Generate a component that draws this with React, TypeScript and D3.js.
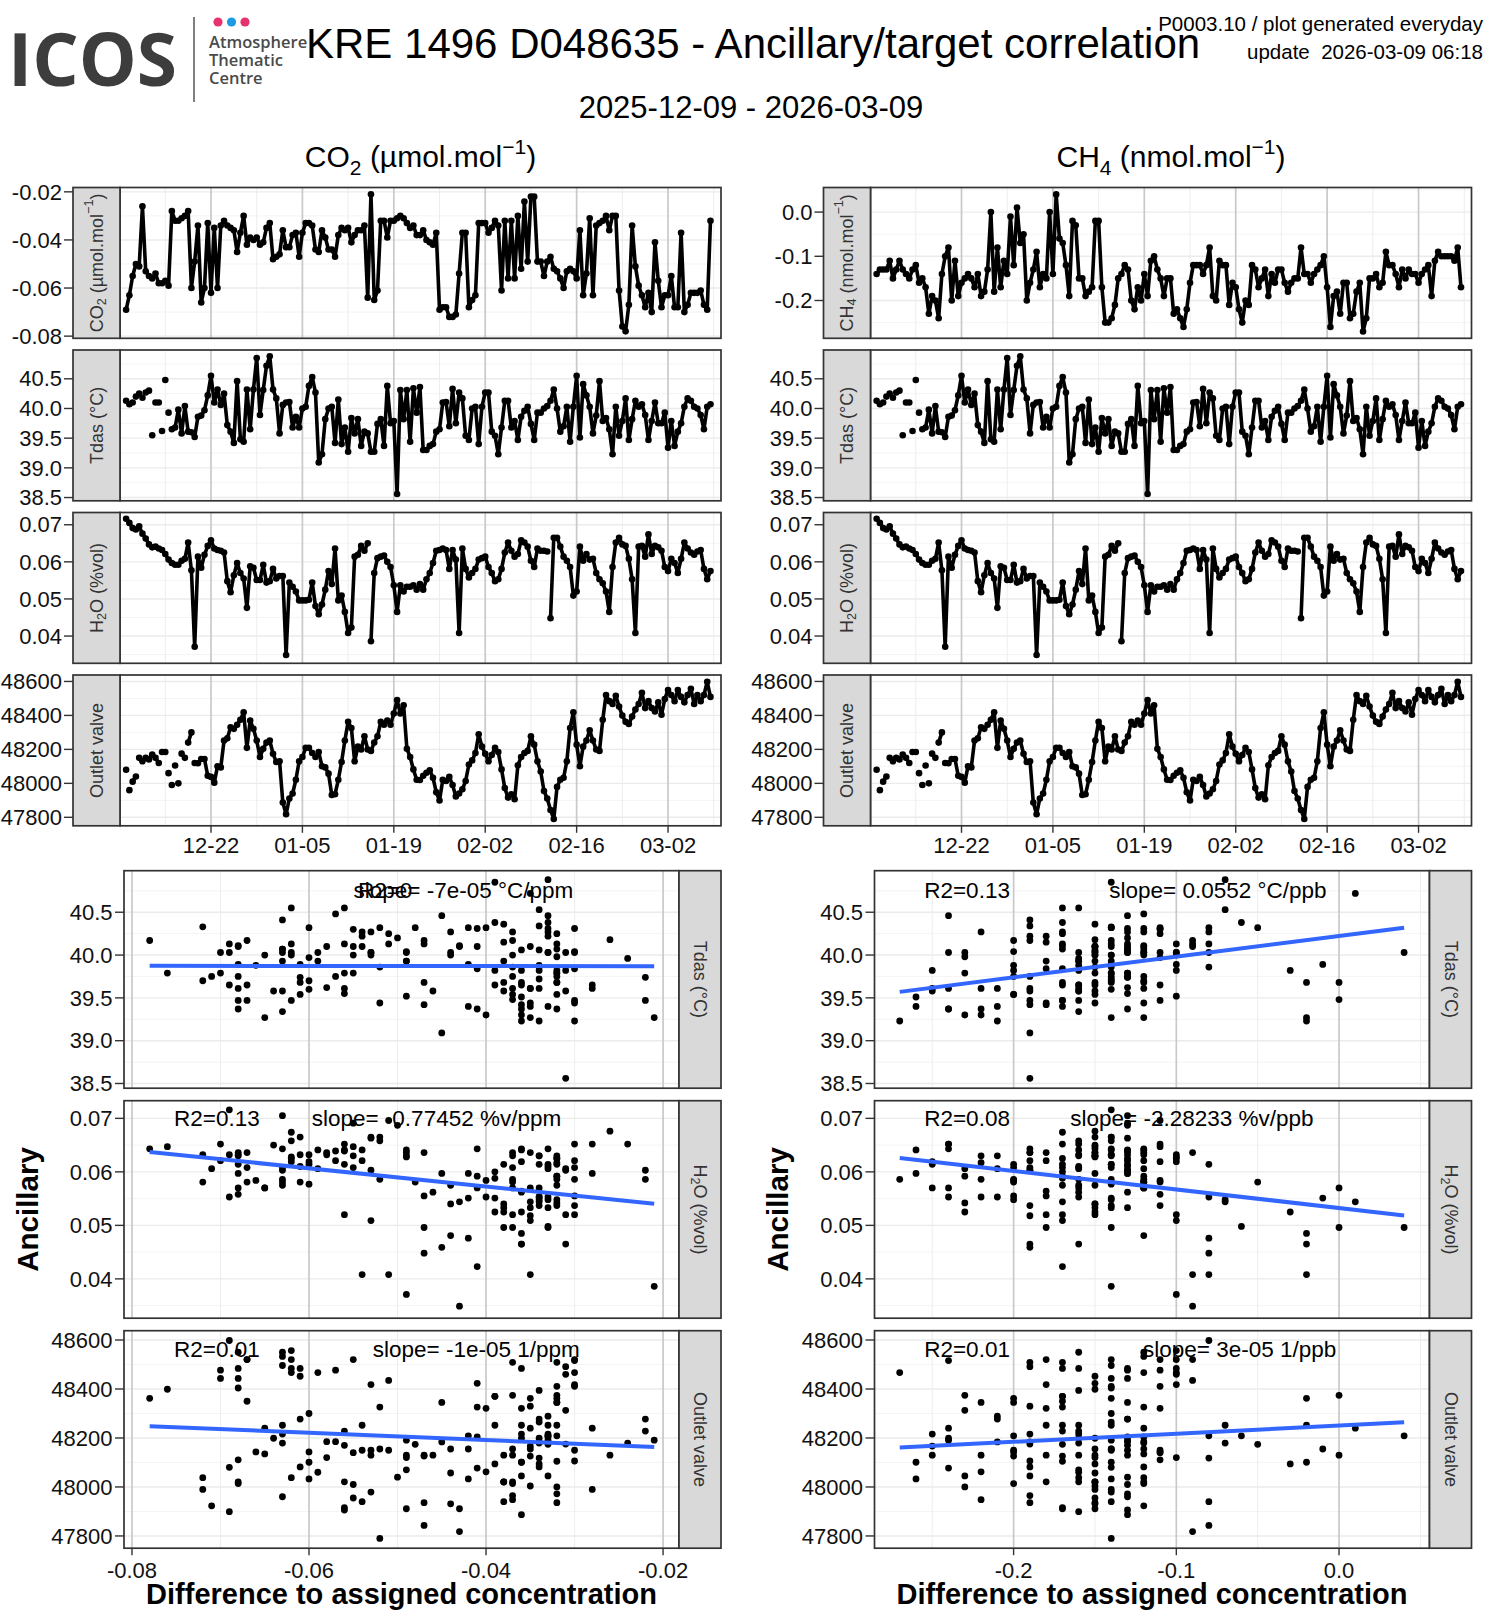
import React from 'react';
import * as d3 from 'd3';

// ── Data: one sample every 12 h starting 2025-12-09 00:00 UTC ────────────────
const FIRST_SAMPLE = Date.UTC(2025, 11, 9, 0, 0);
const SAMPLE_STEP_H = 12;

// CO2 difference to assigned concentration (µmol/mol)
const co2Diff = [
  -0.069, -0.063, -0.055, -0.05, -0.051, -0.026, -0.053, -0.055, -0.056, -0.054,
  -0.058, -0.058, -0.057, -0.059, -0.028, -0.032, -0.032, -0.031, -0.03, -0.028,
  -0.06, -0.049, -0.034, -0.066, -0.06, -0.033, -0.062, -0.035, -0.06, -0.034,
  -0.032, -0.034, -0.035, -0.036, -0.045, -0.037, -0.03, -0.042, -0.039, -0.04,
  -0.039, -0.042, -0.041, -0.035, -0.033, -0.048, -0.047, -0.046, -0.036, -0.043,
  -0.043, -0.038, -0.037, -0.047, -0.037, -0.033, -0.033, -0.034, -0.044, -0.045,
  -0.036, -0.039, -0.044, -0.044, -0.047, -0.038, -0.035, -0.036, -0.035, -0.041,
  -0.038, -0.036, -0.036, -0.034, -0.064, -0.021, -0.065, -0.061, -0.032, -0.032,
  -0.039, -0.032, -0.032, -0.031, -0.03, -0.031, -0.033, -0.035, -0.034, -0.038,
  -0.038, -0.036, -0.04, -0.041, -0.042, -0.037, -0.069, -0.068, -0.068, -0.072,
  -0.072, -0.071, -0.054, -0.037, -0.037, -0.068, -0.065, -0.063, -0.033, -0.033,
  -0.033, -0.037, -0.035, -0.032, -0.034, -0.061, -0.032, -0.056, -0.032, -0.056,
  -0.03, -0.052, -0.024, -0.049, -0.022, -0.022, -0.049, -0.049, -0.055, -0.049,
  -0.047, -0.052, -0.053, -0.056, -0.06, -0.053, -0.052, -0.053, -0.056, -0.036,
  -0.063, -0.054, -0.031, -0.063, -0.034, -0.033, -0.032, -0.03, -0.036, -0.03,
  -0.03, -0.061, -0.076, -0.078, -0.067, -0.034, -0.051, -0.059, -0.063, -0.068,
  -0.062, -0.07, -0.041, -0.057, -0.068, -0.063, -0.063, -0.055, -0.068, -0.068,
  -0.037, -0.07, -0.067, -0.062, -0.062, -0.062, -0.061, -0.067, -0.069, -0.032,
];

// CH4 difference to assigned concentration (nmol/mol)
const ch4Diff = [
  -0.14, -0.13, -0.13, -0.13, -0.11, -0.15, -0.13, -0.11, -0.13, -0.14,
  -0.15, -0.13, -0.12, -0.16, -0.15, -0.17, -0.23, -0.19, -0.2, -0.24,
  -0.14, -0.1, -0.08, -0.2, -0.11, -0.19, -0.16, -0.15, -0.14, -0.15,
  -0.17, -0.14, -0.19, -0.18, -0.13, 0.0, -0.18, -0.08, -0.17, -0.11,
  -0.14, -0.01, -0.12, 0.01, -0.07, -0.05, -0.2, -0.16, -0.13, -0.09,
  -0.17, -0.14, -0.15, 0.0, -0.14, 0.04, -0.06, -0.07, -0.12, -0.19,
  -0.02, -0.03, -0.15, -0.15, -0.19, -0.18, -0.17, -0.02, -0.02, -0.17,
  -0.25, -0.25, -0.24, -0.21, -0.15, -0.14, -0.12, -0.13, -0.2, -0.22,
  -0.17, -0.2, -0.14, -0.19, -0.11, -0.1, -0.13, -0.15, -0.19, -0.15,
  -0.15, -0.23, -0.22, -0.24, -0.26, -0.22, -0.16, -0.12, -0.12, -0.12,
  -0.14, -0.12, -0.08, -0.19, -0.2, -0.11, -0.12, -0.12, -0.21, -0.16,
  -0.17, -0.22, -0.25, -0.2, -0.21, -0.12, -0.13, -0.17, -0.15, -0.13,
  -0.19, -0.14, -0.16, -0.13, -0.13, -0.16, -0.18, -0.16, -0.15, -0.15,
  -0.08, -0.14, -0.14, -0.16, -0.14, -0.13, -0.12, -0.1, -0.17, -0.26,
  -0.19, -0.18, -0.23, -0.16, -0.16, -0.24, -0.23, -0.18, -0.16, -0.27,
  -0.24, -0.15, -0.15, -0.14, -0.17, -0.16, -0.09, -0.12, -0.12, -0.14,
  -0.17, -0.13, -0.15, -0.13, -0.14, -0.14, -0.16, -0.14, -0.13, -0.12,
  -0.19, -0.11, -0.09, -0.1, -0.1, -0.1, -0.1, -0.11, -0.08, -0.17,
];

// Tdas (°C)
const tdas = [
  40.13, 40.07, 40.1, 40.2, 40.25, 40.18, 40.27, 40.3, 39.55, 40.1,
  40.1, 39.62, 40.48, 39.93, 39.65, 39.68, 39.98, 39.58, 40.04, 39.61,
  39.6, 39.52, 39.86, 39.88, 39.97, 40.22, 40.55, 40.1, 40.32, 40.06,
  40.25, 39.72, 39.61, 39.42, 40.46, 39.48, 39.44, 40.32, 39.65, 40.32,
  40.85, 39.89, 40.31, 40.72, 40.88, 40.32, 40.17, 39.58, 40.06, 40.1,
  40.11, 39.68, 39.86, 39.68, 40.0, 40.03, 40.38, 40.53, 40.27, 39.09,
  39.23, 39.82, 40.0, 40.03, 39.42, 40.15, 39.4, 39.68, 39.27, 39.84,
  39.58, 39.82, 39.37, 39.61, 39.58, 39.27, 39.27, 39.74, 39.82, 39.37,
  40.38, 39.75, 39.79, 38.56, 40.31, 39.82, 40.31, 39.44, 40.34, 39.93,
  40.36, 39.3, 39.3, 39.37, 39.4, 39.61, 39.65, 40.1, 40.11, 39.7,
  40.33, 39.75, 40.27, 40.17, 39.54, 39.47, 40.0, 40.03, 39.4, 40.03,
  40.27, 40.27, 39.61, 39.54, 39.23, 39.68, 40.13, 40.13, 39.68, 39.79,
  39.47, 39.86, 39.96, 40.03, 39.74, 39.47, 39.93, 39.93, 40.0, 40.04,
  40.13, 40.32, 40.0, 39.61, 39.7, 40.03, 39.44, 40.03, 40.55, 39.51,
  40.41, 40.22, 40.03, 39.58, 39.88, 40.46, 39.79, 39.84, 39.65, 39.23,
  40.03, 39.54, 39.79, 40.17, 39.47, 39.82, 40.13, 40.03, 40.07, 39.89,
  39.47, 39.79, 40.1, 39.75, 39.75, 39.93, 39.34, 39.79, 39.37, 39.61,
  39.75, 40.03, 40.17, 40.13, 40.03, 40.0, 39.89, 39.65, 40.03, 40.07,
];

// H2O (%vol)
const h2o = [
  0.0716, 0.0705, 0.0691, 0.0687, 0.0696, 0.0676, 0.0663, 0.0647, 0.0639, 0.0641,
  0.0636, 0.0632, 0.0621, 0.0606, 0.0597, 0.0592, 0.0592, 0.0603, 0.0608, 0.0652,
  0.0577, 0.0371, 0.0614, 0.0584, 0.0619, 0.0643, 0.0658, 0.0636, 0.0632, 0.063,
  0.0625, 0.0548, 0.0518, 0.0564, 0.0597, 0.057, 0.0555, 0.0476, 0.0588, 0.0584,
  0.0551, 0.0551, 0.0592, 0.0544, 0.0548, 0.0581, 0.0555, 0.0562, 0.0562, 0.0349,
  0.0544, 0.0533, 0.052, 0.0496, 0.0496, 0.0496, 0.0498, 0.0544, 0.0481, 0.0459,
  0.0485, 0.0525, 0.0575, 0.054, 0.0636, 0.0496, 0.0509, 0.0465, 0.0408, 0.0423,
  0.0614, 0.0619, 0.0643, 0.063, 0.065, 0.0386, 0.057, 0.061, 0.0614, 0.0617,
  0.06, 0.0586, 0.0537, 0.0465, 0.0537, 0.052, 0.0533, 0.0533, 0.0537, 0.0525,
  0.054, 0.0525, 0.0553, 0.057, 0.0597, 0.063, 0.0632, 0.0636, 0.0632, 0.0581,
  0.0632, 0.0606, 0.0408, 0.0636, 0.0581, 0.0558, 0.057, 0.0581, 0.0606, 0.061,
  0.0614, 0.0586, 0.057, 0.0548, 0.0553, 0.0581, 0.0625, 0.0652, 0.063, 0.0614,
  0.0621, 0.0658, 0.0652, 0.0641, 0.0603, 0.0586, 0.0636, 0.063, 0.063, 0.0628,
  0.0448, 0.0665, 0.0665, 0.0641, 0.0614, 0.0603, 0.0586, 0.0509, 0.052, 0.0641,
  0.0603, 0.0621, 0.0606, 0.0608, 0.057, 0.0553, 0.0542, 0.052, 0.0465, 0.0586,
  0.0652, 0.0665, 0.0647, 0.0643, 0.0608, 0.0553, 0.0408, 0.0641, 0.0643, 0.0614,
  0.0674, 0.0621, 0.0643, 0.0639, 0.063, 0.0586, 0.0575, 0.0608, 0.0597, 0.057,
  0.0608, 0.0652, 0.0636, 0.0625, 0.0619, 0.0628, 0.0632, 0.0581, 0.0553, 0.0575,
];

// Outlet valve
const outletValve = [
  48080, 47960, 48010, 48040, 48150, 48130, 48150, 48140, 48170, 48150,
  48120, 48185, 48185, 48060, 47990, 48105, 48000, 48175, 48150, 48240,
  48300, 48120, 48118, 48143, 48143, 48045, 48038, 48004, 48101, 48094,
  48252, 48265, 48330, 48321, 48345, 48374, 48418, 48209, 48370, 48321,
  48252, 48155, 48204, 48240, 48252, 48174, 48126, 48130, 47887, 47818,
  47911, 47940, 48021, 48130, 48155, 48209, 48209, 48179, 48155, 48184,
  48101, 48094, 48057, 47931, 47936, 48021, 48126, 48252, 48362, 48326,
  48130, 48216, 48199, 48277, 48199, 48191, 48240, 48277, 48362, 48345,
  48370, 48345, 48411, 48491, 48411, 48460, 48204, 48155, 48082, 48021,
  48020, 48045, 48062, 48077, 48033, 47948, 47899, 48021, 48014, 48038,
  47990, 47923, 47940, 47965, 48014, 48111, 48135, 48179, 48289, 48216,
  48174, 48130, 48167, 48209, 48184, 48082, 47972, 47916, 47936, 47906,
  48106, 48155, 48179, 48191, 48277, 48228, 48130, 48070, 47955, 47911,
  47843, 47790, 47979, 48021, 48033, 48130, 48326, 48418, 48228, 48101,
  48216, 48252, 48313, 48252, 48199, 48191, 48374, 48520, 48484, 48467,
  48516, 48452, 48399, 48362, 48350, 48394, 48435, 48467, 48533, 48443,
  48484, 48443, 48423, 48477, 48404, 48496, 48550, 48520, 48484, 48550,
  48509, 48477, 48520, 48557, 48467, 48520, 48484, 48520, 48598, 48509,
];

// samples where the line is interrupted (missing sample before them)
const tdasBreaks = [3, 5, 6, 8, 9, 11, 12, 13, 14];
const h2oBreaks = [75, 130];
const outletBreaks = [1, 2, 4, 11, 13, 14, 15, 16, 17, 19, 21];

// ── Axis ticks ───────────────────────────────────────────────────────────────
const TIME_DOMAIN = [Date.UTC(2025, 11, 8, 1, 30), Date.UTC(2026, 2, 10, 2, 40)];
const dateTicks = ['2025-12-22', '2026-01-05', '2026-01-19', '2026-02-02', '2026-02-16', '2026-03-02'];
const dateLabels = ['12-22', '01-05', '01-19', '02-02', '02-16', '03-02'];
const dateMinor = ['2025-12-15', '2025-12-29', '2026-01-12', '2026-01-26', '2026-02-09', '2026-02-23', '2026-03-09'];

const co2Domain = [-0.0809, -0.0182];
const co2Ticks = [-0.08, -0.06, -0.04, -0.02];
const co2Labels = ['-0.08', '-0.06', '-0.04', '-0.02'];
const co2Minor = [-0.07, -0.05, -0.03];

const ch4Domain = [-0.2855, 0.0556];
const ch4Ticks = [-0.2, -0.1, 0.0];
const ch4Labels = ['-0.2', '-0.1', '0.0'];
const ch4Minor = [-0.25, -0.15, -0.05, 0.05];

const tdasDomain = [38.445, 40.985];
const tdasTicks = [38.5, 39.0, 39.5, 40.0, 40.5];
const tdasLabels = ['38.5', '39.0', '39.5', '40.0', '40.5'];
const tdasMinor = [38.75, 39.25, 39.75, 40.25, 40.75];

const h2oDomain = [0.03265, 0.0733];
const h2oTicks = [0.04, 0.05, 0.06, 0.07];
const h2oLabels = ['0.04', '0.05', '0.06', '0.07'];
const h2oMinor = [0.035, 0.045, 0.055, 0.065];

const outletDomain = [47750, 48638];
const outletTicks = [47800, 48000, 48200, 48400, 48600];
const outletLabels = ['47800', '48000', '48200', '48400', '48600'];
const outletMinor = [47900, 48100, 48300, 48500];

// ── Regression annotations (per ancillary: Tdas, H2O, Outlet) ────────────────
const co2Fit = [[39.874, 39.87], [0.06373, 0.05404], [48248, 48163]];
const ch4Fit = [[39.57, 40.32], [0.0626, 0.05186], [48161, 48264]];
const co2R2 = ['R2=0', 'R2=0.13', 'R2=0.01'];
const ch4R2 = ['R2=0.13', 'R2=0.08', 'R2=0.01'];
const co2Slope = ['slope= -7e-05 °C/ppm', 'slope= -0.77452 %v/ppm', 'slope= -1e-05 1/ppm'];
const ch4Slope = ['slope= 0.0552 °C/ppb', 'slope= -2.28233 %v/ppb', 'slope= 3e-05 1/ppb'];
const co2R2X = [-0.0514, -0.0704, -0.0704];
const ch4R2X = [-0.2286, -0.2286, -0.2286];
const co2SlopeX = [-0.04256, -0.0456, -0.0411];
const ch4SlopeX = [-0.0744, -0.0904, -0.0611];
const annotY = [40.76, 0.07, 48563];

// ── Labels ───────────────────────────────────────────────────────────────────
type Part = { t: string; s?: 'sub' | 'sup' };
const LBL_CO2: Part[] = [{ t: 'CO' }, { t: '2', s: 'sub' }, { t: ' (µmol.mol' }, { t: '−1', s: 'sup' }, { t: ')' }];
const LBL_CH4: Part[] = [{ t: 'CH' }, { t: '4', s: 'sub' }, { t: ' (nmol.mol' }, { t: '−1', s: 'sup' }, { t: ')' }];
const LBL_TDAS: Part[] = [{ t: 'Tdas (°C)' }];
const LBL_H2O: Part[] = [{ t: 'H' }, { t: '2', s: 'sub' }, { t: 'O (%vol)' }];
const LBL_OUTLET: Part[] = [{ t: 'Outlet valve' }];

// ── Layout ───────────────────────────────────────────────────────────────────
const W = 1500;
const H = 1620;
const FONT = '"Liberation Sans", Arial, Helvetica, sans-serif';
const COL_SHIFT = 750.5;
const TS_LEFT = 120;
const TS_W = 601;
const TS_H = 150.8;
const TS_TOPS = [187.5, 350, 512.5, 675];
const STRIP = 47;
const SC_LEFT = 124;
const SC_W = 555;
const SC_H = 217.5;
const SC_TOPS = [870.7, 1100.7, 1330.7];
const SC_STRIP = 42;

const BORDER = '#333333';
const STRIP_FILL = '#D9D9D9';
const GRID = '#EBEBEB';
const GRID_MINOR = '#F3F3F3';
const GRID_X = '#C9C9C9';
const FIT_COLOR = '#3366FF';
const TXT = '#111';

function Rich({ parts, size }: { parts: Part[]; size: number }) {
  let level = 0;
  return (
    <>
      {parts.map((p, k) => {
        const next = p.s === 'sub' ? 0.28 * size : p.s === 'sup' ? -0.42 * size : 0;
        const dy = next - level;
        level = next;
        return (
          <tspan key={k} dy={dy} fontSize={p.s ? size * 0.7 : size}>
            {p.t}
          </tspan>
        );
      })}
    </>
  );
}

function runs(values: number[], breaks: number[]) {
  const out: number[][] = [];
  let cur: number[] = [];
  values.forEach((v, i) => {
    if (breaks.includes(i) && cur.length) {
      out.push(cur);
      cur = [];
    }
    cur.push(i);
  });
  if (cur.length) out.push(cur);
  return out;
}

const parseDay = (s: string) => new Date(s + 'T00:00:00Z');

interface TsProps {
  dx: number;
  top: number;
  values: number[];
  breaks: number[];
  domain: number[];
  ticks: number[];
  labels: string[];
  minor: number[];
  strip: Part[];
  times: Date[];
  showX: boolean;
}

function TsPanel({ dx, top, values, breaks, domain, ticks, labels, minor, strip, times, showX }: TsProps) {
  const left = TS_LEFT + dx;
  const right = left + TS_W;
  const bottom = top + TS_H;
  const x = d3.scaleUtc().domain(TIME_DOMAIN).range([left, right]);
  const y = d3.scaleLinear().domain(domain).range([bottom, top]);
  const line = d3
    .line<number>()
    .x((i) => x(times[i]))
    .y((i) => y(values[i]));
  const segs = runs(values, breaks);
  const sx = left - STRIP;

  return (
    <g>
      <rect x={left} y={top} width={TS_W} height={TS_H} fill="#fff" />
      {minor.map((v) => (
        <line key={'hm' + v} x1={left} x2={right} y1={y(v)} y2={y(v)} stroke={GRID_MINOR} strokeWidth={0.9} />
      ))}
      {dateMinor.map((d) => (
        <line key={'vm' + d} x1={x(parseDay(d))} x2={x(parseDay(d))} y1={top} y2={bottom} stroke={GRID} strokeWidth={0.9} />
      ))}
      {ticks.map((v) => (
        <line key={'h' + v} x1={left} x2={right} y1={y(v)} y2={y(v)} stroke={GRID} strokeWidth={1.4} />
      ))}
      {dateTicks.map((d) => (
        <line key={'v' + d} x1={x(parseDay(d))} x2={x(parseDay(d))} y1={top} y2={bottom} stroke={GRID_X} strokeWidth={1.7} />
      ))}
      {segs.map((s, k) =>
        s.length > 1 ? (
          <path key={'s' + k} d={line(s) ?? ''} fill="none" stroke="#000" strokeWidth={3.6} strokeLinejoin="round" />
        ) : null,
      )}
      {values.map((v, i) => (
        <circle key={'p' + i} cx={x(times[i])} cy={y(v)} r={3.3} fill="#000" />
      ))}
      <rect x={left} y={top} width={TS_W} height={TS_H} fill="none" stroke={BORDER} strokeWidth={1.7} />
      <rect x={sx} y={top} width={STRIP} height={TS_H} fill={STRIP_FILL} stroke={BORDER} strokeWidth={1.7} />
      <text
        transform={`translate(${sx + STRIP / 2},${top + TS_H / 2}) rotate(-90)`}
        textAnchor="middle"
        dominantBaseline="central"
        fontSize={18}
        fill="#333"
      >
        <Rich parts={strip} size={18} />
      </text>
      {ticks.map((v, k) => (
        <g key={'t' + v}>
          <line x1={sx - 9} x2={sx} y1={y(v)} y2={y(v)} stroke={BORDER} strokeWidth={1.4} />
          <text x={sx - 11} y={y(v)} dy="0.35em" textAnchor="end" fontSize={22} fill={TXT}>
            {labels[k]}
          </text>
        </g>
      ))}
      {showX &&
        dateTicks.map((d, k) => (
          <g key={'xt' + d}>
            <line x1={x(parseDay(d))} x2={x(parseDay(d))} y1={bottom} y2={bottom + 7} stroke={BORDER} strokeWidth={1.4} />
            <text x={x(parseDay(d))} y={853} textAnchor="middle" fontSize={22} fill={TXT}>
              {dateLabels[k]}
            </text>
          </g>
        ))}
    </g>
  );
}

interface ScProps {
  dx: number;
  top: number;
  xs: number[];
  ys: number[];
  xDomain: number[];
  xTicks: number[];
  xLabels: string[];
  xMinor: number[];
  domain: number[];
  ticks: number[];
  labels: string[];
  minor: number[];
  strip: Part[];
  fit: number[];
  r2: string;
  slope: string;
  r2X: number;
  slopeX: number;
  labelY: number;
  showX: boolean;
}

function ScatterPanel(p: ScProps) {
  const left = SC_LEFT + p.dx;
  const right = left + SC_W;
  const bottom = p.top + SC_H;
  const x = d3.scaleLinear().domain(p.xDomain).range([left, right]);
  const y = d3.scaleLinear().domain(p.domain).range([bottom, p.top]);
  const [xmin, xmax] = d3.extent(p.xs) as [number, number];
  const fitLine = d3
    .line<[number, number]>()
    .x((d) => x(d[0]))
    .y((d) => y(d[1]));

  return (
    <g>
      <rect x={left} y={p.top} width={SC_W} height={SC_H} fill="#fff" />
      {p.minor.map((v) => (
        <line key={'hm' + v} x1={left} x2={right} y1={y(v)} y2={y(v)} stroke={GRID_MINOR} strokeWidth={0.9} />
      ))}
      {p.xMinor.map((v) => (
        <line key={'vm' + v} x1={x(v)} x2={x(v)} y1={p.top} y2={bottom} stroke={GRID} strokeWidth={0.9} />
      ))}
      {p.ticks.map((v) => (
        <line key={'h' + v} x1={left} x2={right} y1={y(v)} y2={y(v)} stroke={GRID} strokeWidth={1.4} />
      ))}
      {p.xTicks.map((v) => (
        <line key={'v' + v} x1={x(v)} x2={x(v)} y1={p.top} y2={bottom} stroke={GRID_X} strokeWidth={1.7} />
      ))}
      {p.xs.map((xv, i) => (
        <circle key={'p' + i} cx={x(xv)} cy={y(p.ys[i])} r={3.4} fill="#000" />
      ))}
      <path
        d={fitLine([
          [xmin, p.fit[0]],
          [xmax, p.fit[1]],
        ]) ?? ''}
        stroke={FIT_COLOR}
        strokeWidth={4}
        fill="none"
      />
      <text x={x(p.r2X)} y={y(p.labelY)} dy="0.35em" textAnchor="middle" fontSize={22.5} fill="#000">
        {p.r2}
      </text>
      <text x={x(p.slopeX)} y={y(p.labelY)} dy="0.35em" textAnchor="middle" fontSize={22.5} fill="#000">
        {p.slope}
      </text>
      <rect x={left} y={p.top} width={SC_W} height={SC_H} fill="none" stroke={BORDER} strokeWidth={1.7} />
      <rect x={right} y={p.top} width={SC_STRIP} height={SC_H} fill={STRIP_FILL} stroke={BORDER} strokeWidth={1.7} />
      <text
        transform={`translate(${right + SC_STRIP / 2},${p.top + SC_H / 2}) rotate(90)`}
        textAnchor="middle"
        dominantBaseline="central"
        fontSize={18}
        fill="#333"
      >
        <Rich parts={p.strip} size={18} />
      </text>
      {p.ticks.map((v, k) => (
        <g key={'t' + v}>
          <line x1={left - 9} x2={left} y1={y(v)} y2={y(v)} stroke={BORDER} strokeWidth={1.4} />
          <text x={left - 11.5} y={y(v)} dy="0.35em" textAnchor="end" fontSize={22} fill={TXT}>
            {p.labels[k]}
          </text>
        </g>
      ))}
      {p.showX &&
        p.xTicks.map((v, k) => (
          <g key={'xt' + v}>
            <line x1={x(v)} x2={x(v)} y1={bottom} y2={bottom + 7} stroke={BORDER} strokeWidth={1.4} />
            <text x={x(v)} y={1578} textAnchor="middle" fontSize={22} fill={TXT}>
              {p.xLabels[k]}
            </text>
          </g>
        ))}
    </g>
  );
}

export default function App() {
  const times = co2Diff.map((_, i) => new Date(FIRST_SAMPLE + i * SAMPLE_STEP_H * 3600 * 1000));

  const ancillary = [
    { values: tdas, breaks: tdasBreaks, domain: tdasDomain, ticks: tdasTicks, labels: tdasLabels, minor: tdasMinor, strip: LBL_TDAS },
    { values: h2o, breaks: h2oBreaks, domain: h2oDomain, ticks: h2oTicks, labels: h2oLabels, minor: h2oMinor, strip: LBL_H2O },
    { values: outletValve, breaks: outletBreaks, domain: outletDomain, ticks: outletTicks, labels: outletLabels, minor: outletMinor, strip: LBL_OUTLET },
  ];

  const columns = [
    {
      dx: 0, target: co2Diff, domain: co2Domain, ticks: co2Ticks, labels: co2Labels, minor: co2Minor, label: LBL_CO2,
      fit: co2Fit, r2: co2R2, slope: co2Slope, r2X: co2R2X, slopeX: co2SlopeX,
    },
    {
      dx: COL_SHIFT, target: ch4Diff, domain: ch4Domain, ticks: ch4Ticks, labels: ch4Labels, minor: ch4Minor, label: LBL_CH4,
      fit: ch4Fit, r2: ch4R2, slope: ch4Slope, r2X: ch4R2X, slopeX: ch4SlopeX,
    },
  ];

  return (
    <svg
      width={W}
      height={H}
      viewBox={`0 0 ${W} ${H}`}
      style={{ position: 'absolute', left: 0, top: 0, background: '#fff' }}
      fontFamily={FONT}
    >
      <rect width={W} height={H} fill="#fff" />

      {/* ── ICOS logo ── */}
      <text x={8} y={86} fontFamily='"Open Sans", sans-serif' fontWeight={700} fontSize={73} fill="#3d3d3d">
        ICOS
      </text>
      <line x1={194} x2={194} y1={17} y2={102} stroke="#555" strokeWidth={1.5} />
      <circle cx={218} cy={22} r={4.6} fill="#E6336F" />
      <circle cx={231.5} cy={22} r={4.6} fill="#1D9BE2" />
      <circle cx={245} cy={22} r={4.6} fill="#E6336F" />
      {['Atmosphere', 'Thematic', 'Centre'].map((t, k) => (
        <text key={t} x={209} y={47.5 + k * 18.3} fontFamily='"Open Sans", sans-serif' fontWeight={600} fontSize={16.5} fill="#4a4a4a">
          {t}
        </text>
      ))}

      {/* ── Titles ── */}
      <text x={306} y={58} fontSize={42} fill="#000">
        KRE 1496 D048635 - Ancillary/target correlation
      </text>
      <text x={1483} y={31} textAnchor="end" fontSize={20.5} fill="#000">
        P0003.10 / plot generated everyday
      </text>
      <text x={1483} y={59} textAnchor="end" fontSize={20.5} fill="#000" style={{ whiteSpace: 'pre' }}>
        {'update  2026-03-09 06:18'}
      </text>
      <text x={751} y={118} textAnchor="middle" fontSize={31} fill="#000">
        2025-12-09 - 2026-03-09
      </text>

      {columns.map((c, ci) => (
        <g key={'col' + ci}>
          <text x={TS_LEFT + c.dx + TS_W / 2} y={167} textAnchor="middle" fontSize={30} fill="#000">
            <Rich parts={c.label} size={30} />
          </text>

          {/* time series: target then ancillaries */}
          <TsPanel
            dx={c.dx}
            top={TS_TOPS[0]}
            values={c.target}
            breaks={[]}
            domain={c.domain}
            ticks={c.ticks}
            labels={c.labels}
            minor={c.minor}
            strip={c.label}
            times={times}
            showX={false}
          />
          {ancillary.map((a, k) => (
            <TsPanel
              key={'ts' + k}
              dx={c.dx}
              top={TS_TOPS[k + 1]}
              values={a.values}
              breaks={a.breaks}
              domain={a.domain}
              ticks={a.ticks}
              labels={a.labels}
              minor={a.minor}
              strip={a.strip}
              times={times}
              showX={k === ancillary.length - 1}
            />
          ))}

          {/* correlation scatter plots */}
          {ancillary.map((a, k) => (
            <ScatterPanel
              key={'sc' + k}
              dx={c.dx}
              top={SC_TOPS[k]}
              xs={c.target}
              ys={a.values}
              xDomain={c.domain}
              xTicks={c.ticks}
              xLabels={c.labels}
              xMinor={c.minor}
              domain={a.domain}
              ticks={a.ticks}
              labels={a.labels}
              minor={a.minor}
              strip={a.strip}
              fit={c.fit[k]}
              r2={c.r2[k]}
              slope={c.slope[k]}
              r2X={c.r2X[k]}
              slopeX={c.slopeX[k]}
              labelY={annotY[k]}
              showX={k === ancillary.length - 1}
            />
          ))}

          <text
            transform={`translate(${27 + c.dx},${SC_TOPS[0] + (SC_TOPS[2] + SC_H - SC_TOPS[0]) / 2}) rotate(-90)`}
            textAnchor="middle"
            dominantBaseline="central"
            fontSize={29.5}
            fontWeight="bold"
            fill="#000"
          >
            Ancillary
          </text>
          <text x={SC_LEFT + c.dx + SC_W / 2} y={1604} textAnchor="middle" fontSize={29} fontWeight="bold" fill="#000">
            Difference to assigned concentration
          </text>
        </g>
      ))}
    </svg>
  );
}
